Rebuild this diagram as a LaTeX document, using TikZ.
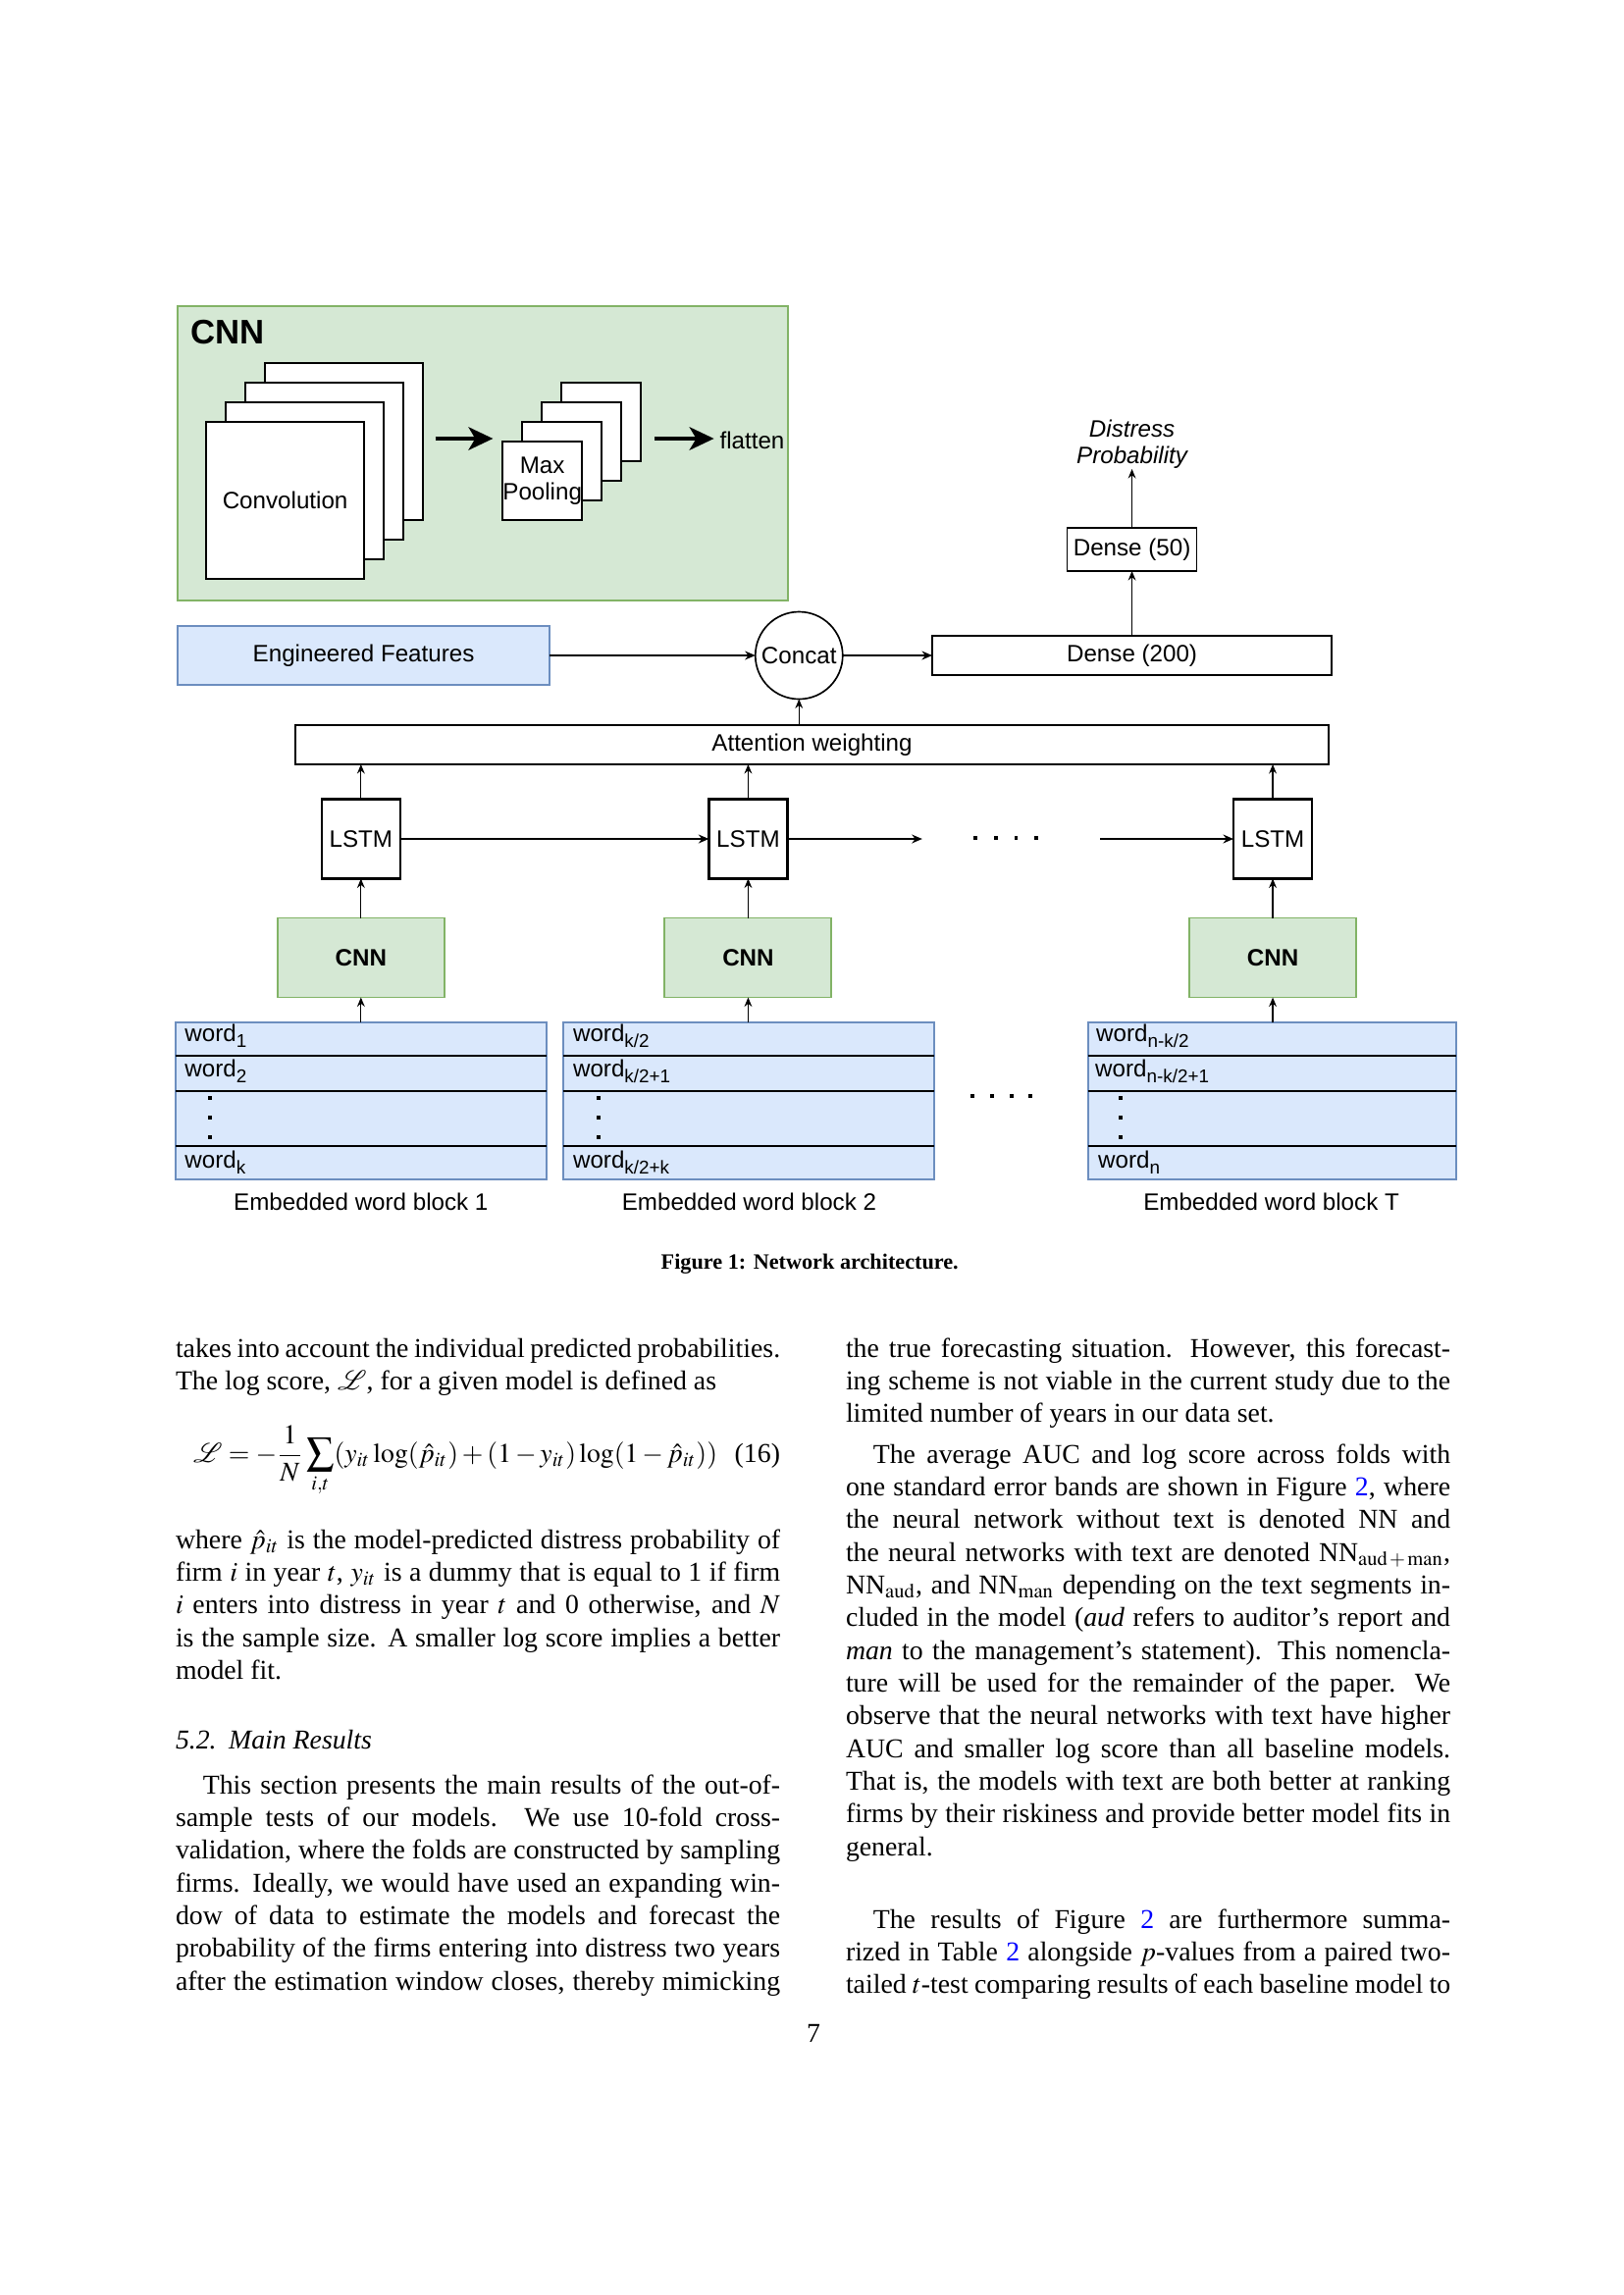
\documentclass[tikz,border=0pt]{standalone}
\usepackage{mathptmx}
\usepackage[no-math]{fontspec}
\setmainfont{Liberation Serif}
\newfontfamily\figfont{Liberation Sans}
\DeclareFontFamily{U}{rsfs}{\skewchar\font127 }
\DeclareFontShape{U}{rsfs}{m}{n}{<-6>rsfs5<6-8>rsfs7<8->rsfs10}{}
\DeclareMathAlphabet{\mathscr}{U}{rsfs}{m}{n}
\usetikzlibrary{arrows.meta}
\definecolor{gfill}{HTML}{D5E8D4}
\definecolor{gdraw}{HTML}{82B366}
\definecolor{bfill}{HTML}{DAE8FC}
\definecolor{bdraw}{HTML}{6C8EBF}
\newcommand{\pxu}{0.36pt}
\newcommand{\figsz}{\figfont\fontsize{8.7}{10.4}\selectfont}
\newcommand{\wsub}[1]{\raisebox{-2.3pt}{\fontsize{6.8}{7}\selectfont #1}}
\newcommand{\colpar}[1]{\parbox[t]{221.8pt}{\fontsize{10}{12}\selectfont\tolerance=10000\hyphenpenalty=10000\lineskiplimit=-20pt #1}}
\begin{document}
\begin{tikzpicture}[x=0.36pt,y=-0.36pt,
  every node/.style={inner sep=0pt, outer sep=0pt},
  fig/.style={font=\figsz},
  wbox/.style={draw=black, line width=0.6pt, fill=white, font=\figsz},
  gbox/.style={draw=gdraw, line width=0.7pt, fill=gfill, font=\figsz},
  bbox/.style={draw=bdraw, line width=0.7pt, fill=bfill, font=\figsz},
  arr/.style={line width=0.45pt, -{Stealth[length=3.4pt,width=2.8pt]}},
  harr/.style={line width=0.7pt, -{Stealth[length=3.8pt,width=3.2pt]}},
  bigarr/.style={line width=1.1pt, -{Stealth[length=9pt,width=8.5pt,inset=2.5pt]}},
  dvd/.style={draw=black, line width=0.6pt},
  body/.style={font=\rmfamily\fontsize{10}{12}\selectfont, anchor=base west}
]
\useasboundingbox (0,0) rectangle (1654,2339);
\fill[white] (0,0) rectangle (1654,2339);

\begin{scope}[xshift=-0.87*0.36pt, xscale=0.9965]
% ---------------- CNN detail panel ----------------
\node[gbox, minimum width=621.5*\pxu, minimum height=300*\pxu] (cnnbig) at (494.75,462) {};
\node[font=\figfont\bfseries\fontsize{12.5}{15}\selectfont, anchor=base west] (cnntitle) at (196,350) {CNN};

\node[wbox, minimum width=161*\pxu, minimum height=160*\pxu] (conv3) at (352.5,450) {};
\node[wbox, minimum width=161*\pxu, minimum height=160*\pxu] (conv2) at (332.5,470) {};
\node[wbox, minimum width=161*\pxu, minimum height=160*\pxu] (conv1) at (312.5,490) {};
\node[wbox, minimum width=161*\pxu, minimum height=160*\pxu] (conv0) at (292.5,510) {Convolution};

\node[wbox, minimum width=81*\pxu, minimum height=80*\pxu] (pool3) at (615.5,430) {};
\node[wbox, minimum width=81*\pxu, minimum height=80*\pxu] (pool2) at (595.5,450) {};
\node[wbox, minimum width=81*\pxu, minimum height=80*\pxu] (pool1) at (575.5,470) {};
\node[wbox, minimum width=81*\pxu, minimum height=80*\pxu, align=center, font=\figfont\fontsize{8.7}{9.7}\selectfont] (pool0) at (555.5,490) {Max\\Pooling};

\coordinate (a1s) at (446,447);
\coordinate (a1e) at (505,447);
\coordinate (a2s) at (670,447);
\coordinate (a2e) at (731,447);
\draw[bigarr] (a1s) -- (a1e);
\draw[bigarr] (a2s) -- (a2e);
\node[fig, anchor=base west] (flat) at (737,457) {flatten};

% ---------------- top of network ----------------
\node[bbox, minimum width=378.5*\pxu, minimum height=60*\pxu] (ef) at (372.75,668) {Engineered Features};
\node[draw=black, line width=0.6pt, fill=white, circle, minimum size=89*\pxu, font=\figsz] (concat) at (818,668) {Concat};
\node[wbox, minimum width=407*\pxu, minimum height=40*\pxu] (d200) at (1158.5,668) {Dense (200)};
\node[wbox, minimum width=132*\pxu, minimum height=44*\pxu] (d50) at (1158.5,560) {Dense (50)};
\node[font=\figfont\itshape\fontsize{8.7}{10}\selectfont, align=center, anchor=south] (dp) at (1158.5,478) {Distress\\Probability};

\draw[harr] (ef.east) -- (concat.west);
\draw[harr] (concat.east) -- (d200.west);
\draw[arr] (d200.north -| d50.south) -- (d50.south);
\draw[arr] (d50.north) -- (dp.south);

\node[wbox, line width=0.8pt, minimum width=1052.5*\pxu, minimum height=40*\pxu] (att) at (831.3,759) {Attention weighting};
\draw[arr] (att.north -| concat.south) -- (concat.south);

% ---------------- LSTM row ----------------
\node[wbox, line width=0.8pt, minimum width=80*\pxu, minimum height=81*\pxu] (l1) at (370,855) {LSTM};
\node[wbox, line width=0.8pt, minimum width=80*\pxu, minimum height=81*\pxu] (l2) at (766,855) {LSTM};
\node[wbox, line width=0.8pt, minimum width=80*\pxu, minimum height=81*\pxu] (l3) at (1302.5,855) {LSTM};

\draw[arr] (l1.north) -- (l1.north |- att.south);
\draw[arr] (l2.north) -- (l2.north |- att.south);
\draw[arr] (l3.north) -- (l3.north |- att.south);

\coordinate (h1) at (944,855);
\coordinate (h2) at (1126,855);
\draw[harr] (l1.east) -- (l2.west);
\draw[harr] (l2.east) -- (h1);
\draw[harr] (h2) -- (l3.west);
\foreach \xx in {998,1019,1040,1061} \fill (\xx-2,852) rectangle (\xx+2,856);

% ---------------- CNN row ----------------
\node[gbox, minimum width=170*\pxu, minimum height=81*\pxu, font=\figfont\bfseries\fontsize{8.7}{10}\selectfont] (c1) at (370,976) {CNN};
\node[gbox, minimum width=170*\pxu, minimum height=81*\pxu, font=\figfont\bfseries\fontsize{8.7}{10}\selectfont] (c2) at (766,976) {CNN};
\node[gbox, minimum width=170*\pxu, minimum height=81*\pxu, font=\figfont\bfseries\fontsize{8.7}{10}\selectfont] (c3) at (1302.5,976) {CNN};
\draw[arr] (c1.north) -- (l1.south);
\draw[arr] (c2.north) -- (l2.south);
\draw[arr] (c3.north) -- (l3.south);

% ---------------- word blocks ----------------
\node[bbox, minimum width=378*\pxu, minimum height=160*\pxu] (b1) at (370,1122) {};
\node[bbox, minimum width=378*\pxu, minimum height=160*\pxu] (b2) at (767,1122) {};
\node[bbox, minimum width=375*\pxu, minimum height=160*\pxu] (b3) at (1301.5,1122) {};
\foreach \bb in {b1,b2,b3}{
  \foreach \yy in {1076,1112,1168}
    \draw[dvd] (\bb.west |- 0,\yy) -- (\bb.east |- 0,\yy);
}
\draw[arr] (b1.north) -- (c1.south);
\draw[arr] (c2.south |- b2.north) -- (c2.south);
\draw[arr] (c3.south |- b3.north) -- (c3.south);

\node[fig, anchor=base west] (w11) at (190,1061) {word\wsub{1}};
\node[fig, anchor=base west] (w12) at (190,1097) {word\wsub{2}};
\node[fig, anchor=base west] (w1k) at (190,1190) {word\wsub{k}};
\node[fig, anchor=base west] (w21) at (587,1061) {word\wsub{k/2}};
\node[fig, anchor=base west] (w22) at (587,1097) {word\wsub{k/2+1}};
\node[fig, anchor=base west] (w2k) at (587,1190) {word\wsub{k/2+k}};
\node[fig, anchor=base west] (w31) at (1122,1061) {word\wsub{n-k/2}};
\node[fig, anchor=base west] (w32) at (1121,1097) {word\wsub{n-k/2+1}};
\node[fig, anchor=base west] (w3k) at (1124,1190) {word\wsub{n}};
\foreach \xx in {216,613,1147}{
  \foreach \yy in {1119,1139,1159}
    \fill (\xx-2,\yy-2) rectangle (\xx+2,\yy+2);
}
\foreach \xx in {995,1015,1035,1055} \fill (\xx-2,1115) rectangle (\xx+2,1119);

\node[fig, anchor=base] (cap1) at (370,1233) {Embedded word block 1};
\node[fig, anchor=base] (cap2) at (767,1233) {Embedded word block 2};
\node[fig, anchor=base] (cap3) at (1301,1233) {Embedded word block T};

\node[font=\rmfamily\bfseries\fontsize{8}{10}\selectfont, anchor=base] (figcap) at (829,1293) {Figure 1: Network architecture.};
\end{scope}

% ---------------- body text, left column ----------------
\node[body] (ta) at (179,1383) {\colpar{takes into account the individual predicted probabilities.\linebreak The log score, $\mathscr{L}$, for a given model is defined as}};
\node[body] (eq) at (197,1490) {$\displaystyle \mathscr{L} = -\frac{1}{N}\sum_{i,t}(y_{it}\log(\hat{p}_{it})+(1-y_{it})\log(1-\hat{p}_{it}))$};
\node[font=\rmfamily\fontsize{10}{12}\selectfont, anchor=base east] (eqn) at (795,1490) {(16)};
\node[body] (tb) at (179,1578) {\colpar{where $\hat{p}_{it}$ is the model-predicted distress probability of\linebreak firm $i$ in year $t$, $y_{it}$ is a dummy that is equal to 1 if firm\linebreak $i$ enters into distress in year $t$ and 0 otherwise, and $N$\linebreak is the sample size. A smaller log score implies a better\linebreak model fit.}};
\node[body] (sec) at (179,1782) {\textit{5.2.\hspace{0.45em}Main Results}};
\node[body] (tc) at (179,1828) {\colpar{\parfillskip=0pt\hspace*{10pt}This section presents the main results of the out-of-\linebreak sample tests of our models. We use 10-fold cross-\linebreak validation, where the folds are constructed by sampling\linebreak firms. Ideally, we would have used an expanding win-\linebreak dow of data to estimate the models and forecast the\linebreak probability of the firms entering into distress two years\linebreak after the estimation window closes, thereby mimicking}};

% ---------------- body text, right column ----------------
\node[body] (td) at (862,1383) {\colpar{the true forecasting situation. However, this forecast-\linebreak ing scheme is not viable in the current study due to the\linebreak limited number of years in our data set.}};
\node[body] (te) at (862,1491) {\colpar{\hspace*{10pt}The average AUC and log score across folds with\linebreak one standard error bands are shown in Figure~\textcolor{blue}{2}, where\linebreak the neural network without text is denoted NN and\linebreak the neural networks with text are denoted NN$_{\mathrm{aud\,+\,man}}$,\linebreak NN$_{\mathrm{aud}}$, and NN$_{\mathrm{man}}$ depending on the text segments in-\linebreak cluded in the model (\textit{aud} refers to auditor's report and\linebreak \textit{man} to the management's statement). This nomencla-\linebreak ture will be used for the remainder of the paper. We\linebreak observe that the neural networks with text have higher\linebreak AUC and smaller log score than all baseline models.\linebreak That is, the models with text are both better at ranking\linebreak firms by their riskiness and provide better model fits in\linebreak general.}};
\node[body] (tf) at (862,1965) {\colpar{\parfillskip=0pt\hspace*{10pt}The results of Figure~\textcolor{blue}{2} are furthermore summa-\linebreak rized in Table~\textcolor{blue}{2} alongside $p$-values from a paired two-\linebreak tailed $t$-test comparing results of each baseline model to}};

\node[font=\rmfamily\fontsize{10}{12}\selectfont, anchor=base] (pg) at (829,2081) {7};
\end{tikzpicture}
\end{document}
